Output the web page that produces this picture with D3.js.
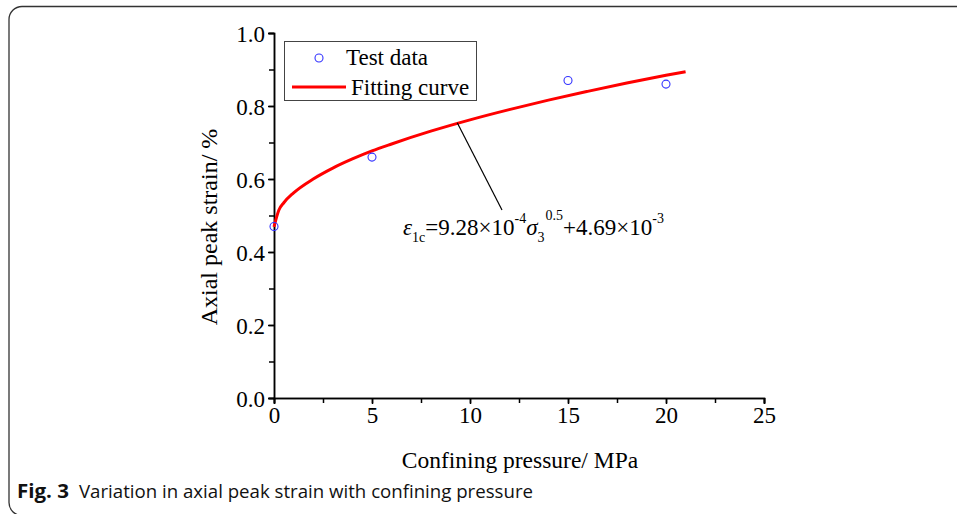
<!DOCTYPE html>
<html>
<head>
<meta charset="utf-8">
<script src="https://cdn.jsdelivr.net/npm/d3@7"></script>
<style>
  body { margin: 0; background: #fff; }
  svg { display: block; }
</style>
</head>
<body>
<div id="chart"></div>
<script>
// test data
const pressure = [0, 5, 15, 20];
const strain = [0.47, 0.66, 0.87, 0.86];

// fitting curve, points
const curveX = [0, 0.25, 0.5, 1, 2, 3, 4, 5, 6, 8, 10, 12, 14, 16, 18, 20, 21];
const curveY = [0.469, 0.515, 0.535, 0.562, 0.600, 0.630, 0.655, 0.677, 0.696, 0.731, 0.762, 0.790, 0.816, 0.840, 0.863, 0.884, 0.894];

const xTicks = [0, 5, 10, 15, 20, 25];
const yTicks = [0.0, 0.2, 0.4, 0.6, 0.8, 1.0];

const width = 957;
const height = 514;
const margin = { top: 33, right: 193, bottom: 116, left: 274 };
const serif = "'Liberation Serif', 'Times New Roman', serif";

const svg = d3.select("#chart")
    .append("svg")
    .attr("width", width)
    .attr("height", height);

// card frame (runs off the right and bottom edges)
svg.append("rect")
    .attr("x", 9)
    .attr("y", 6.5)
    .attr("width", 1000)
    .attr("height", 509)
    .attr("rx", 13)
    .attr("fill", "none")
    .attr("stroke", "#333")
    .attr("stroke-width", 1.3);

const x = d3.scaleLinear()
    .domain([0, 25])
    .range([margin.left, width - margin.right]);

const y = d3.scaleLinear()
    .domain([0, 1])
    .range([height - margin.bottom, margin.top]);

// minor ticks
const xMinor = d3.range(0, 25.01, 2.5);
const yMinor = d3.range(0, 1.001, 0.1);

const xAxis = svg.append("g")
    .attr("transform", `translate(0,${y(0)})`)
    .call(d3.axisBottom(x).tickValues(xMinor).tickSize(5).tickFormat(""));
xAxis.append("g")
    .call(d3.axisBottom(x).tickValues(xTicks).tickSize(6).tickPadding(3).tickFormat(d3.format("d")));

const yAxis = svg.append("g")
    .attr("transform", `translate(${x(0)},0)`)
    .call(d3.axisLeft(y).tickValues(yMinor).tickSize(5).tickFormat(""));
yAxis.append("g")
    .call(d3.axisLeft(y).tickValues(yTicks).tickSize(6).tickPadding(3).tickFormat(d3.format(".1f")));

svg.selectAll(".domain").attr("stroke", "#000").attr("stroke-width", 1.5);
svg.selectAll(".tick line").attr("stroke", "#000").attr("stroke-width", 1.5);
svg.selectAll(".tick text")
    .attr("fill", "#000")
    .style("font-family", serif)
    .style("font-size", "23px");
yAxis.selectAll(".tick text").attr("dy", "0.35em");

// axis titles
svg.append("text")
    .attr("x", 520)
    .attr("y", 468)
    .attr("text-anchor", "middle")
    .style("font-family", serif)
    .style("font-size", "23.5px")
    .text("Confining pressure/ MPa");

svg.append("text")
    .attr("transform", "rotate(-90)")
    .attr("x", -227)
    .attr("y", 217)
    .attr("text-anchor", "middle")
    .style("font-family", serif)
    .style("font-size", "24px")
    .text("Axial peak strain/ %");

// fitting curve
const line = d3.line()
    .x(d => x(d[0]))
    .y(d => y(d[1]))
    .curve(d3.curveMonotoneX);

svg.append("path")
    .datum(curveX.map((v, i) => [v, curveY[i]]))
    .attr("d", line)
    .attr("fill", "none")
    .attr("stroke", "#ff0000")
    .attr("stroke-width", 3);

// test data
svg.selectAll(".dot")
    .data(pressure.map((p, i) => ({ p, s: strain[i] })))
    .join("circle")
    .attr("class", "dot")
    .attr("cx", d => x(d.p))
    .attr("cy", d => y(d.s))
    .attr("r", 4)
    .attr("fill", "none")
    .attr("stroke", "#3333ff")
    .attr("stroke-width", 1.1);

// leader line to the equation
svg.append("line")
    .attr("x1", x(9.35))
    .attr("y1", y(0.754))
    .attr("x2", 502)
    .attr("y2", 210)
    .attr("stroke", "#000")
    .attr("stroke-width", 1.2);

const eq = svg.append("text")
    .attr("x", 403)
    .attr("y", 235)
    .style("font-family", serif)
    .style("font-size", "23px");
eq.append("tspan").style("font-style", "italic").text("ε");
eq.append("tspan").attr("dy", 7).style("font-size", "14px").text("1c");
eq.append("tspan").attr("dy", -7).text("=9.28×10");
eq.append("tspan").attr("dy", -12).style("font-size", "14px").text("-4");
eq.append("tspan").attr("dy", 12).style("font-style", "italic").text("σ");
eq.append("tspan").attr("dy", 7).style("font-size", "14px").text("3");
eq.append("tspan").attr("dy", -22).attr("dx", 1).style("font-size", "14px").text("0.5");
eq.append("tspan").attr("dy", 15).text("+4.69×10");
eq.append("tspan").attr("dy", -12).style("font-size", "14px").text("-3");

// legend
const legend = svg.append("g");
legend.append("rect")
    .attr("x", 284.5)
    .attr("y", 41.5)
    .attr("width", 192)
    .attr("height", 59)
    .attr("fill", "#fff")
    .attr("stroke", "#444")
    .attr("stroke-width", 1);
legend.append("circle")
    .attr("cx", 319)
    .attr("cy", 58)
    .attr("r", 4)
    .attr("fill", "none")
    .attr("stroke", "#3333ff")
    .attr("stroke-width", 1.1);
legend.append("text")
    .attr("x", 346)
    .attr("y", 65)
    .style("font-family", serif)
    .style("font-size", "23px")
    .text("Test data");
legend.append("line")
    .attr("x1", 292)
    .attr("x2", 346)
    .attr("y1", 87)
    .attr("y2", 87)
    .attr("stroke", "#ff0000")
    .attr("stroke-width", 3);
legend.append("text")
    .attr("x", 351)
    .attr("y", 95)
    .style("font-family", serif)
    .style("font-size", "23px")
    .text("Fitting curve");

// caption
const capFont = "'Open Sans', 'Noto Sans', sans-serif";
svg.append("text")
    .attr("x", 17)
    .attr("y", 498)
    .attr("textLength", 52)
    .attr("lengthAdjust", "spacingAndGlyphs")
    .style("font-family", capFont)
    .style("font-size", "19px")
    .style("font-weight", "bold")
    .attr("fill", "#111")
    .text("Fig. 3");
svg.append("text")
    .attr("x", 79)
    .attr("y", 498)
    .attr("textLength", 454)
    .attr("lengthAdjust", "spacingAndGlyphs")
    .style("font-family", capFont)
    .style("font-size", "19px")
    .attr("fill", "#111")
    .text("Variation in axial peak strain with confining pressure");
</script>
</body>
</html>
